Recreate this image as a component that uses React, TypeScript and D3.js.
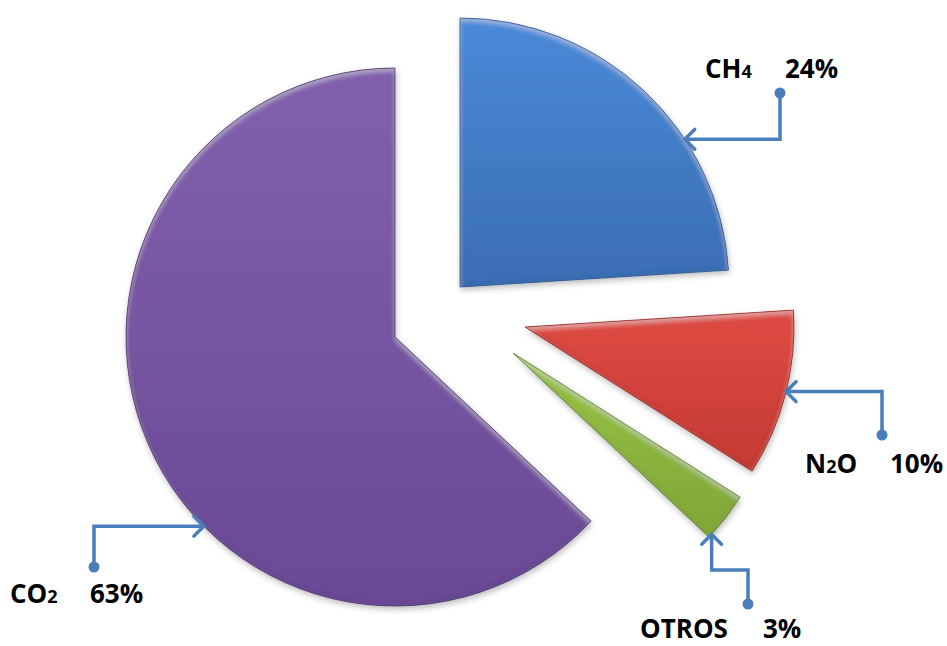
import React from "react";
import * as d3 from "d3";

// ---- data ----
const categories = ["CH4", "N2O", "OTROS", "CO2"];
const nameMain = ["CH", "N", "OTROS", "CO"];
const nameSub = ["4", "2", "", "2"];
const nameTail = ["", "O", "", ""];
const values = [24, 10, 3, 63];
const pctLabels = ["24%", "10%", "3%", "63%"];

// ---- layout / style ----
const W = 947;
const H = 646;
const CX = 395;
const CY = 337;
const R = 269;
const explode: [number, number][] = [
  [65, -50],
  [130, -10],
  [118, 16],
  [0, 0],
];
const topColors = ["#4a8ad8", "#de4b44", "#98c445", "#8260ad"];
const botColors = ["#3a6db3", "#c43a33", "#7fa638", "#6a4995"];
const edgeColors = ["#2c5a96", "#952a25", "#5f7f28", "#4f3572"];
const leaderColor = "#4a7ebb";
const leaderAngle = [56.7, 103.9, 132.4, 225.3];
const leaderDot: [number, number][] = [
  [780, 93],
  [882, 435],
  [748, 604],
  [94, 567],
];
const leaderMidY = [null, null, 570, null];
const labelNameX = [705, 805, 640, 10];
const labelPctX = [785, 890, 763, 90];
const labelY = [78, 473, 638, 603];

export default function App() {
  const pie = d3
    .pie<number>()
    .sort(null)
    .value((d) => d)
    .startAngle(0)
    .endAngle(2 * Math.PI);
  const arcs = pie(values);
  const arcGen = d3.arc<d3.PieArcDatum<number>>().innerRadius(0).outerRadius(R);

  const arrow = (tx: number, ty: number, dx: number, dy: number) => {
    const L = 14;
    const a = Math.PI / 4;
    const p1 = [
      tx + L * (dx * Math.cos(a) - dy * Math.sin(a)),
      ty + L * (dx * Math.sin(a) + dy * Math.cos(a)),
    ];
    const p2 = [
      tx + L * (dx * Math.cos(-a) - dy * Math.sin(-a)),
      ty + L * (dx * Math.sin(-a) + dy * Math.cos(-a)),
    ];
    return `M${p1[0]},${p1[1]}L${tx},${ty}L${p2[0]},${p2[1]}`;
  };

  return (
    <svg width={W} height={H} style={{ display: "block", position: "absolute", left: 0, top: 0 }}>
      <defs>
        {categories.map((c, i) => (
          <linearGradient key={c} id={`g${i}`} x1="0" y1="0" x2="0" y2="1">
            <stop offset="0%" stopColor={topColors[i]} />
            <stop offset="100%" stopColor={botColors[i]} />
          </linearGradient>
        ))}
        <filter id="shadow" x="-20%" y="-20%" width="140%" height="140%">
          <feDropShadow dx="1" dy="3" stdDeviation="3" floodColor="#000" floodOpacity="0.28" />
        </filter>
        <filter id="inner" x="-5%" y="-5%" width="110%" height="110%">
          <feGaussianBlur in="SourceAlpha" stdDeviation="2.5" result="blur" />
          <feComposite in="SourceAlpha" in2="blur" operator="out" result="edge" />
          <feFlood floodColor="#000" floodOpacity="0.35" result="dark" />
          <feComposite in="dark" in2="edge" operator="in" result="edgeDark" />
          <feOffset in="blur" dx="0" dy="3" result="blurOff" />
          <feComposite in="SourceAlpha" in2="blurOff" operator="out" result="topEdge" />
          <feFlood floodColor="#fff" floodOpacity="0.35" result="light" />
          <feComposite in="light" in2="topEdge" operator="in" result="edgeLight" />
          <feMerge>
            <feMergeNode in="SourceGraphic" />
            <feMergeNode in="edgeDark" />
            <feMergeNode in="edgeLight" />
          </feMerge>
        </filter>
      </defs>
      <rect width={W} height={H} fill="#ffffff" />
      {arcs.map((a, i) => (
        <g key={categories[i]} transform={`translate(${CX + explode[i][0]},${CY + explode[i][1]})`}>
          <path d={arcGen(a) || ""} fill={`url(#g${i})`} filter="url(#shadow)" />
          <path d={arcGen(a) || ""} fill={`url(#g${i})`} filter="url(#inner)" />
          <path d={arcGen(a) || ""} fill="none" stroke={edgeColors[i]} strokeWidth={1} strokeLinejoin="round" strokeOpacity={0.8} />
        </g>
      ))}
      {arcs.map((a, i) => {
        const ang = (leaderAngle[i] * Math.PI) / 180;
        const cx = CX + explode[i][0];
        const cy = CY + explode[i][1];
        const tx = cx + R * Math.sin(ang);
        const ty = cy - R * Math.cos(ang);
        const [dx, dy] = leaderDot[i];
        let d: string;
        let dirx = 0;
        let diry = 0;
        const mid = leaderMidY[i];
        if (mid !== null) {
          d = `M${tx},${ty}L${tx},${mid}L${dx},${mid}L${dx},${dy}`;
          diry = Math.sign(mid - ty);
        } else {
          d = `M${tx},${ty}L${dx},${ty}L${dx},${dy}`;
          dirx = Math.sign(dx - tx);
        }
        return (
          <g key={`l${i}`} fill="none" stroke={leaderColor} strokeWidth={3.5}>
            <path d={d} strokeLinejoin="miter" />
            <path d={arrow(tx, ty, dirx, diry)} strokeLinecap="round" strokeLinejoin="miter" />
            <circle cx={dx} cy={dy} r={5.5} fill={leaderColor} stroke="none" />
          </g>
        );
      })}
      {categories.map((c, i) => (
        <g key={`t${i}`} fontFamily="'Open Sans', 'Liberation Sans', sans-serif" fontWeight="bold" fill="#000">
          <text x={labelNameX[i]} y={labelY[i]} fontSize={26}>
            {nameMain[i]}
            {nameSub[i] ? <tspan fontSize={18}>{nameSub[i]}</tspan> : null}
            {nameTail[i] ? <tspan fontSize={26}>{nameTail[i]}</tspan> : null}
          </text>
          <text x={labelPctX[i]} y={labelY[i]} fontSize={26}>
            {pctLabels[i]}
          </text>
        </g>
      ))}
    </svg>
  );
}
